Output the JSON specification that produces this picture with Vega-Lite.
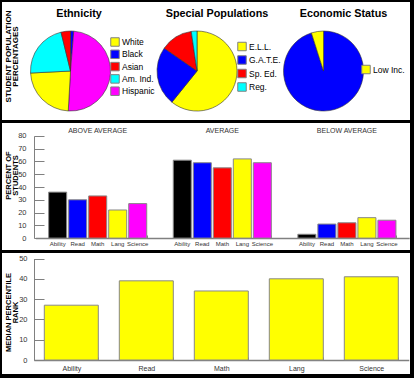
{
  "$schema": "https://vega.github.io/schema/vega-lite/v6.json",
  "background": "black",
  "padding": {"left": 2, "top": 2, "right": 4, "bottom": 4},
  "spacing": 3,
  "config": {
    "view": {"fill": "white", "stroke": null},
    "font": "Liberation Sans",
    "axis": {
      "grid": false,
      "labelFont": "Liberation Sans",
      "labelFontSize": 7.5,
      "labelColor": "#333333",
      "labelOverlap": false,
      "titleFont": "Liberation Sans",
      "titleFontWeight": "bold",
      "titleFontSize": 7.5,
      "titleLineHeight": 7,
      "titleBaseline": "alphabetic",
      "titleColor": "black",
      "domainColor": "#808080",
      "tickColor": "#808080"
    },
    "legend": {
      "symbolType": "square",
      "symbolSize": 72,
      "symbolStrokeColor": "#808080",
      "symbolStrokeWidth": 1,
      "labelFont": "Liberation Sans",
      "labelFontSize": 8.5,
      "labelColor": "black",
      "labelOffset": 2,
      "padding": 0
    }
  },
  "vconcat": [
    {
      "width": 408,
      "height": 118,
      "data": {"values": [
        {"chart": "Ethnicity", "group": "Black", "pct": 1.3},
        {"chart": "Ethnicity", "group": "Hispanic", "pct": 49.6},
        {"chart": "Ethnicity", "group": "White", "pct": 23.3},
        {"chart": "Ethnicity", "group": "Am. Ind.", "pct": 22.0},
        {"chart": "Ethnicity", "group": "Asian", "pct": 3.8},
        {"chart": "Special Populations", "group": "E.L.L.", "pct": 60.8},
        {"chart": "Special Populations", "group": "G.A.T.E.", "pct": 23.9},
        {"chart": "Special Populations", "group": "Sp. Ed.", "pct": 13.0},
        {"chart": "Special Populations", "group": "Reg.", "pct": 2.3},
        {"chart": "Economic Status", "group": "Other", "pct": 95.1},
        {"chart": "Economic Status", "group": "Low Inc.", "pct": 4.9}
      ]},
      "transform": [{"window": [{"op": "row_number", "as": "idx"}]}],
      "encoding": {
        "x": {
          "field": "chart", "type": "nominal",
          "scale": {"type": "point", "domain": ["Ethnicity", "Special Populations", "Economic Status"], "padding": 0.6126, "align": 0.442},
          "axis": {
            "orient": "top", "offset": -14.5, "domain": false, "ticks": false,
            "labelPadding": 0, "labelFont": "Liberation Sans", "labelFontWeight": "bold",
            "labelFontSize": 10.8, "labelColor": "black", "labelBaseline": "alphabetic", "labelAngle": 0,
            "labelOffset": {"condition": {"test": "datum.value === 'Ethnicity'", "value": 8}, "value": 19.5},
            "title": null
          }
        },
        "y": {
          "datum": "all", "type": "nominal",
          "scale": {"type": "point", "align": 0.585},
          "axis": {
            "orient": "left", "offset": -18, "domain": false, "ticks": false, "labels": false,
            "title": ["STUDENT POPULATION", "PERCENTAGES"], "titleX": -10, "titleY": 54, "titleFontSize": 8
          }
        },
        "theta": {"field": "pct", "type": "quantitative", "stack": true},
        "order": {"field": "idx", "type": "quantitative"}
      },
      "layer": [
        {
          "transform": [{"filter": "datum.chart === 'Ethnicity'"}],
          "mark": {"type": "arc", "outerRadius": 40, "stroke": "#333333", "strokeWidth": 0.6},
          "encoding": {
            "color": {
              "field": "group", "type": "nominal",
              "scale": {"domain": ["White", "Black", "Asian", "Am. Ind.", "Hispanic"], "range": ["#ffff00", "#0000ff", "#ff0000", "#00ffff", "#ff00ff"]},
              "legend": {"orient": "none", "legendX": 108, "legendY": 35, "title": null, "rowPadding": -1.7}
            }
          }
        },
        {
          "transform": [{"filter": "datum.chart === 'Special Populations'"}],
          "mark": {"type": "arc", "outerRadius": 40, "stroke": "#333333", "strokeWidth": 0.6},
          "encoding": {
            "color": {
              "field": "group", "type": "nominal",
              "scale": {"domain": ["E.L.L.", "G.A.T.E.", "Sp. Ed.", "Reg."], "range": ["#ffff00", "#0000ff", "#ff0000", "#00ffff"]},
              "legend": {"orient": "none", "legendX": 235, "legendY": 39.5, "title": null, "rowPadding": -0.5}
            }
          }
        },
        {
          "transform": [{"filter": "datum.chart === 'Economic Status'"}],
          "mark": {"type": "arc", "outerRadius": 40, "stroke": "#333333", "strokeWidth": 0.6},
          "encoding": {
            "color": {
              "field": "group", "type": "nominal",
              "scale": {"domain": ["Low Inc.", "Other"], "range": ["#ffff00", "#0000ff"]},
              "legend": {"orient": "none", "legendX": 359, "legendY": 62.5, "title": null, "values": ["Low Inc."]}
            }
          }
        }
      ],
      "resolve": {"scale": {"color": "independent", "theta": "independent"}, "legend": {"color": "independent"}}
    },
    {
      "width": 408,
      "height": 127,
      "data": {"values": [
        {"group": "ABOVE AVERAGE", "subject": "Ability", "pct": 36},
        {"group": "ABOVE AVERAGE", "subject": "Read", "pct": 30},
        {"group": "ABOVE AVERAGE", "subject": "Math", "pct": 33},
        {"group": "ABOVE AVERAGE", "subject": "Lang", "pct": 22},
        {"group": "ABOVE AVERAGE", "subject": "Science", "pct": 27},
        {"group": "AVERAGE", "subject": "Ability", "pct": 61},
        {"group": "AVERAGE", "subject": "Read", "pct": 59},
        {"group": "AVERAGE", "subject": "Math", "pct": 55},
        {"group": "AVERAGE", "subject": "Lang", "pct": 62},
        {"group": "AVERAGE", "subject": "Science", "pct": 59},
        {"group": "BELOW AVERAGE", "subject": "Ability", "pct": 3},
        {"group": "BELOW AVERAGE", "subject": "Read", "pct": 11},
        {"group": "BELOW AVERAGE", "subject": "Math", "pct": 12},
        {"group": "BELOW AVERAGE", "subject": "Lang", "pct": 16},
        {"group": "BELOW AVERAGE", "subject": "Science", "pct": 14}
      ]},
      "layer": [
        {
          "mark": {"type": "bar", "stroke": "#888888", "strokeWidth": 1},
          "encoding": {
            "x": {
              "field": "group", "type": "nominal",
              "scale": {"domain": ["ABOVE AVERAGE", "AVERAGE", "BELOW AVERAGE"], "range": [33.4, 407.2], "paddingInner": 0.213, "paddingOuter": 0.1065},
              "axis": {"orient": "bottom", "offset": -12, "labels": false, "tickBand": "extent", "tickSize": -3, "title": null, "domainWidth": 1.5}
            },
            "xOffset": {
              "field": "subject", "type": "nominal",
              "scale": {"domain": ["Ability", "Read", "Math", "Lang", "Science"], "paddingInner": 0.1, "paddingOuter": 0}
            },
            "y": {
              "field": "pct", "type": "quantitative",
              "scale": {"domain": [0, 80], "range": [115.1, 12.9], "nice": false, "zero": true},
              "axis": {
                "values": [0, 10, 20, 30, 40, 50, 60, 70, 80], "labelOverlap": false, "offset": -32, "tickSize": -10, "labelPadding": 18,
                "title": ["PERCENT OF", "STUDENTS"], "titleX": -24, "titleY": 52
              }
            },
            "color": {
              "field": "subject", "type": "nominal",
              "scale": {"domain": ["Ability", "Read", "Math", "Lang", "Science"], "range": ["#000000", "#0000ff", "#ff0000", "#ffff00", "#ff00ff"]},
              "legend": null
            }
          }
        },
        {
          "mark": {"type": "text", "baseline": "top", "dy": 3, "fontSize": 6, "font": "Liberation Sans", "color": "#333333"},
          "encoding": {
            "x": {
              "field": "group", "type": "nominal",
              "axis": {"orient": "top", "offset": -11, "domain": false, "ticks": false, "labelPadding": 2, "labelAngle": 0, "labelBaseline": "alphabetic", "labelFontSize": 7, "title": null}
            },
            "xOffset": {"field": "subject", "type": "nominal"},
            "y": {
              "datum": 0, "type": "quantitative",
              "axis": {
                "values": [0, 10, 20, 30, 40, 50, 60, 70, 80], "labelOverlap": false, "offset": -32, "tickSize": -10, "labelPadding": 18,
                "title": ["PERCENT OF", "STUDENTS"], "titleX": -24, "titleY": 52
              }
            },
            "text": {"field": "subject", "type": "nominal"}
          }
        }
      ],
      "resolve": {"axis": {"x": "independent"}}
    },
    {
      "width": 408,
      "height": 121,
      "data": {"values": [
        {"subject": "Ability", "rank": 27},
        {"subject": "Read", "rank": 39},
        {"subject": "Math", "rank": 34},
        {"subject": "Lang", "rank": 40},
        {"subject": "Science", "rank": 41}
      ]},
      "mark": {"type": "bar", "fill": "#ffff00", "stroke": "#888888", "strokeWidth": 1},
      "encoding": {
        "x": {
          "field": "subject", "type": "nominal",
          "scale": {"domain": ["Ability", "Read", "Math", "Lang", "Science"], "range": [31.8, 406.8], "paddingInner": 0.28, "paddingOuter": 0.14},
          "axis": {"orient": "bottom", "offset": -14, "tickBand": "extent", "tickSize": -3, "labelPadding": 7, "labelAngle": 0, "labelFontSize": 7, "title": null, "domainWidth": 1.5}
        },
        "y": {
          "field": "rank", "type": "quantitative",
          "scale": {"domain": [0, 50], "range": [107, 5.5], "nice": false},
          "axis": {
            "values": [0, 10, 20, 30, 40, 50], "offset": -32, "tickSize": -10, "labelPadding": 17,
            "title": ["MEDIAN PERCENTILE", "RANK"], "titleX": -24, "titleY": 59
          }
        }
      }
    }
  ]
}
